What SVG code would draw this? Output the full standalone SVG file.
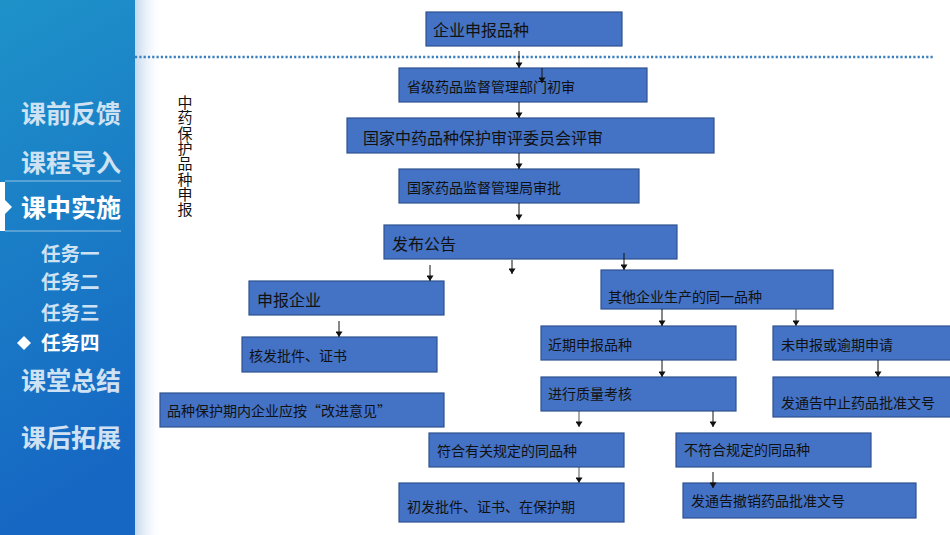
<svg xmlns="http://www.w3.org/2000/svg" width="950" height="535" viewBox="0 0 950 535">
<defs>
<linearGradient id="side" x1="0" y1="0" x2="0.15" y2="1">
<stop offset="0" stop-color="#1e92c9"/>
<stop offset="1" stop-color="#1666c3"/>
</linearGradient>
<linearGradient id="strip" x1="0" y1="0" x2="1" y2="0">
<stop offset="0" stop-color="#c3d8ee"/>
<stop offset="1" stop-color="#ffffff" stop-opacity="0"/>
</linearGradient>
<marker id="ahd" markerUnits="userSpaceOnUse" markerWidth="7" markerHeight="7" refX="3.5" refY="7" viewBox="0 0 7 7">
<path d="M0,1.5 L7,1.5 L3.5,7 Z" fill="#111"/>
</marker>
</defs>
<style>
.box{fill:#4472c4;stroke:#2f528f;stroke-width:1.2}
.t{font-family:"Noto Sans CJK SC","Noto Sans",sans-serif;fill:#111}
.t16{font-size:16px}
.t14{font-size:14px}
.nav{font-family:"Noto Sans CJK SC","Noto Sans",sans-serif;font-weight:bold;fill:#cfe2f3}
.on{fill:#ffffff}
.c{stroke:#111;stroke-width:1;fill:none}
.g{stroke:#555}
</style>
<rect x="0" y="0" width="950" height="535" fill="#ffffff"/>
<g id="sidebar">
<rect x="135" y="0" width="28" height="535" fill="url(#strip)"/>
<rect x="0" y="0" width="135" height="535" fill="url(#side)"/>
<line x1="5" y1="181" x2="121" y2="181" stroke="#8fc3e6" stroke-width="1"/>
<line x1="5" y1="231" x2="121" y2="231" stroke="#8fc3e6" stroke-width="1"/>
<rect x="0" y="182" width="5" height="49" fill="#ffffff"/>
<polygon points="5,200 12,207 5,214" fill="#ffffff"/>
<text class="nav" x="21" y="122.5" font-size="25">课前反馈</text>
<text class="nav" x="21" y="171.5" font-size="25">课程导入</text>
<text class="nav on" x="21" y="216.5" font-size="25">课中实施</text>
<text class="nav" x="41" y="260.5" font-size="19.5">任务一</text>
<text class="nav" x="41" y="288.5" font-size="19.5">任务二</text>
<text class="nav" x="41" y="319.5" font-size="19.5">任务三</text>
<polygon points="24,336 31,343 24,350 17,343" fill="#ffffff"/>
<text class="nav on" x="41" y="349.5" font-size="19.5">任务四</text>
<text class="nav" x="21" y="389.5" font-size="25">课堂总结</text>
<text class="nav" x="21" y="446.5" font-size="25">课后拓展</text>
</g>
<line x1="135" y1="57" x2="933" y2="57" stroke="#3a7fbf" stroke-width="2.5" stroke-dasharray="2.2 2.1"/>
<text class="t" font-size="15" x="185" y="95" letter-spacing="0.3" style="writing-mode:vertical-rl">中药保护品种申报</text>
<g id="n1"><rect class="box" x="426" y="12" width="196" height="34"/><text class="t t16" x="433" y="35.5">企业申报品种</text></g>
<g id="n2"><rect class="box" x="399" y="68" width="248" height="34"/><text class="t t14" x="407" y="91.5">省级药品监督管理部门初审</text></g>
<g id="n3"><rect class="box" x="347" y="118" width="367" height="35"/><text class="t t16" x="363" y="144">国家中药品种保护审评委员会评审</text></g>
<g id="n4"><rect class="box" x="399" y="169" width="240" height="34"/><text class="t t14" x="407" y="193">国家药品监督管理局审批</text></g>
<g id="n5"><rect class="box" x="384" y="225" width="293" height="34"/><text class="t t16" x="392" y="250">发布公告</text></g>
<g id="n6"><rect class="box" x="249" y="281" width="195" height="34"/><text class="t t16" x="257" y="306">申报企业</text></g>
<g id="n7"><rect class="box" x="242" y="337" width="195" height="35"/><text class="t t14" x="249" y="361">核发批件、证书</text></g>
<g id="n8"><rect class="box" x="160" y="393" width="284" height="34"/><text class="t t14" x="167" y="416">品种保护期内企业应按“改进意见”</text></g>
<g id="n9"><rect class="box" x="601" y="270" width="232" height="39"/><text class="t t14" x="608" y="302">其他企业生产的同一品种</text></g>
<g id="n10"><rect class="box" x="541" y="326" width="195" height="34"/><text class="t t14" x="548" y="350">近期申报品种</text></g>
<g id="n11"><rect class="box" x="773" y="326" width="180" height="34"/><text class="t t14" x="781" y="350">未申报或逾期申请</text></g>
<g id="n12"><rect class="box" x="541" y="377" width="195" height="34"/><text class="t t14" x="548" y="399">进行质量考核</text></g>
<g id="n13"><rect class="box" x="773" y="377" width="180" height="40"/><text class="t t14" x="781" y="408">发通告中止药品批准文号</text></g>
<g id="n14"><rect class="box" x="429" y="433" width="195" height="34"/><text class="t t14" x="437" y="456">符合有关规定的同品种</text></g>
<g id="n15"><rect class="box" x="676" y="433" width="195" height="34"/><text class="t t14" x="684" y="455">不符合规定的同品种</text></g>
<g id="n16"><rect class="box" x="399" y="483" width="225" height="39"/><text class="t t14" x="407" y="512">初发批件、证书、在保护期</text></g>
<g id="n17"><rect class="box" x="683" y="483" width="233" height="35"/><text class="t t14" x="691" y="506">发通告撤销药品批准文号</text></g>
<g id="connectors">
<line class="c" x1="519" y1="51" x2="519" y2="68" marker-end="url(#ahd)"/>
<line class="c" x1="542" y1="68" x2="542" y2="83" marker-end="url(#ahd)"/>
<line class="c" x1="519" y1="102" x2="519" y2="118" marker-end="url(#ahd)"/>
<line class="c" x1="519" y1="153" x2="519" y2="169" marker-end="url(#ahd)"/>
<line class="c" x1="519" y1="203" x2="519" y2="220" marker-end="url(#ahd)"/>
<line class="c" x1="430" y1="265" x2="430" y2="281" marker-end="url(#ahd)"/>
<line class="c" x1="512" y1="260" x2="512" y2="274" marker-end="url(#ahd)"/>
<line class="c" x1="624" y1="253" x2="624" y2="270" marker-end="url(#ahd)"/>
<line class="c" x1="339" y1="321" x2="339" y2="337" marker-end="url(#ahd)"/>
<line class="c" x1="662" y1="309" x2="662" y2="326" marker-end="url(#ahd)"/>
<line class="c g" x1="796" y1="309" x2="796" y2="326" marker-end="url(#ahd)"/>
<line class="c" x1="662" y1="360" x2="662" y2="377" marker-end="url(#ahd)"/>
<line class="c" x1="878" y1="360" x2="878" y2="377" marker-end="url(#ahd)"/>
<line class="c g" x1="579" y1="411" x2="579" y2="427" marker-end="url(#ahd)"/>
<line class="c" x1="713" y1="411" x2="713" y2="427" marker-end="url(#ahd)"/>
<line class="c g" x1="579" y1="467" x2="579" y2="483" marker-end="url(#ahd)"/>
<line class="c" x1="713" y1="472" x2="713" y2="488" marker-end="url(#ahd)"/>
</g>
</svg>
